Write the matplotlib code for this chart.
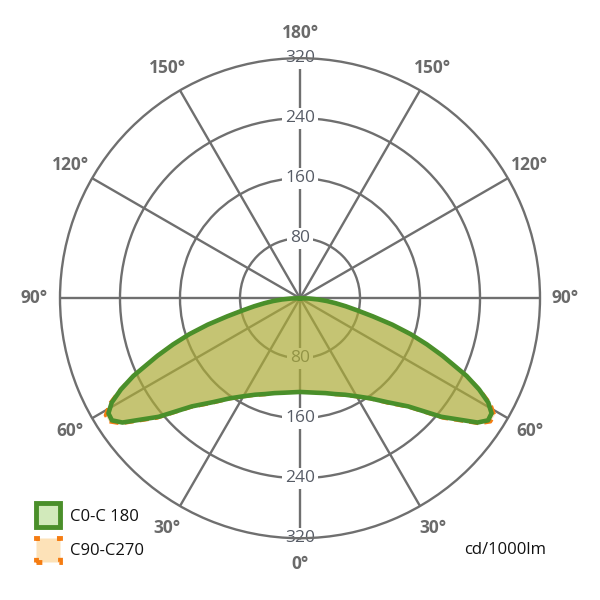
import matplotlib.pyplot as plt
import numpy as np
from matplotlib.patches import Rectangle

# gamma angle (deg from nadir) and intensity in cd/1000lm, one half of the curve
gamma = [0, 5, 10, 15, 20, 25, 30, 35, 40, 45, 50, 55, 57, 59, 61, 63, 65,
         68, 70, 72, 74, 76, 78, 80, 82, 84, 86, 88, 90]
c0_c180 = [125, 126, 128, 131, 136, 142, 151, 163, 181, 204, 246, 289, 299, 298, 287, 268, 245,
           205, 180, 155, 128, 100, 78, 62, 48, 36, 24, 12, 0]
c90_c270 = [125, 126, 128, 131, 137, 143, 152, 164, 183, 206, 249, 292, 303, 303, 291, 270, 246,
            205, 180, 155, 128, 100, 78, 62, 48, 36, 24, 12, 0]

ring_values = [80, 160, 240, 320]
angle_labels = [0, 30, 60, 90, 120, 150, 180]
series_names = ["C0-C 180", "C90-C270"]
unit_label = "cd/1000lm"

GRID = "#6f6f6f"
GREEN = "#4a8f2a"
ORANGE = "#f57c12"

plt.rcParams["font.family"] = ["Open Sans", "DejaVu Sans"]


def full_curve(angles, values):
    a = np.radians(np.array(angles, dtype=float))
    v = np.array(values, dtype=float)
    theta = np.concatenate([-a[::-1], a[1:]])
    r = np.concatenate([v[::-1], v[1:]])
    return theta, r


fig = plt.figure(figsize=(6, 6), dpi=100)
ax = fig.add_axes([0.1, 0.103, 0.8, 0.8], projection="polar")
ax.set_theta_zero_location("S")
ax.set_ylim(0, 320)
ax.set_thetagrids(np.arange(0, 360, 30), labels=[])
ax.set_rgrids([80, 160, 240], labels=[])
ax.grid(True, color=GRID, linewidth=1.7)
ax.spines["polar"].set_color(GRID)
ax.spines["polar"].set_linewidth(1.7)
ax.tick_params(length=0)

# radial value labels along the vertical axis
for v in ring_values:
    for t in (0.0, np.pi):
        ax.text(t, v, str(v), ha="center", va="center", fontsize=12.5, color="#575c66",
                zorder=2, bbox=dict(boxstyle="square,pad=0.15", fc="white", ec="none"))

# angle labels on both sides
for a in angle_labels:
    sides = [a] if a in (0, 180) else [a, -a]
    for s in sides:
        ax.text(np.radians(s), 354, f"{a}°", ha="center", va="center", fontsize=12.5,
                fontweight="bold", color="#6a6a6a", clip_on=False)

th, r = full_curve(gamma, c90_c270)
ax.fill(th, r, color="#ffb060", alpha=0.4, zorder=3, lw=0)
ax.plot(th, r, color=ORANGE, lw=2.2, ls=(0, (3, 2)), zorder=4)

th, r = full_curve(gamma, c0_c180)
ax.fill(th, r, color="#8caa28", alpha=0.5, zorder=3, lw=0)
ax.plot(th, r, color=GREEN, lw=3.3, zorder=5, solid_joinstyle="round")

# legend
fig.patches.append(Rectangle((36 / 600, 1 - 527 / 600), 24 / 600, 24 / 600, transform=fig.transFigure,
                             fc="#d2eabb", ec=GREEN, lw=3.5))
fig.patches.append(Rectangle((36 / 600, 1 - 562 / 600), 24 / 600, 24 / 600, transform=fig.transFigure,
                             fc="#fde2b8", ec=ORANGE, lw=3.5, ls=(0, (1.2, 3.5))))
fig.text(70 / 600, 1 - 517 / 600, series_names[0], fontsize=12, va="center", color="#111111")
fig.text(70 / 600, 1 - 551 / 600, series_names[1], fontsize=12, va="center", color="#111111")
fig.text(505 / 600, 1 - 550 / 600, unit_label, fontsize=12, va="center", ha="center", color="#111111")

fig.savefig("out.png", dpi=100)
